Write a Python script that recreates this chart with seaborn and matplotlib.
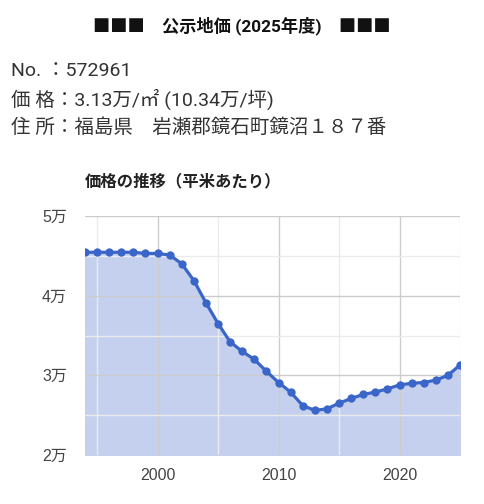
import numpy as np
import pandas as pd
import matplotlib
matplotlib.use("Agg")
import matplotlib.pyplot as plt
import seaborn as sns
from matplotlib.ticker import MultipleLocator, FuncFormatter

years = list(range(1994, 2026))
prices = [4.545, 4.545, 4.545, 4.545, 4.545, 4.53, 4.53, 4.51, 4.40, 4.19,
          3.91, 3.65, 3.42, 3.30, 3.20, 3.05, 2.91, 2.79, 2.62, 2.56,
          2.58, 2.65, 2.71, 2.76, 2.79, 2.83, 2.88, 2.90, 2.91, 2.94,
          3.00, 3.13]
y_ticks = [2, 3, 4, 5]
x_ticks = [2000, 2010, 2020]

title = "■■■　公示地価 (2025年度)　■■■"
info_lines = ["No. ：572961",
              "価 格：3.13万/㎡ (10.34万/坪)",
              "住 所：福島県　岩瀬郡鏡石町鏡沼１８７番"]
chart_title = "価格の推移（平米あたり）"

df = pd.DataFrame({"year": years, "price": prices})

sns.set_style("white")
plt.rcParams['font.family'] = ['Roboto', 'Noto Sans CJK JP', 'DejaVu Sans']
tick_fonts = ['Liberation Sans', 'Noto Sans CJK JP']

fig = plt.figure(figsize=(4.84, 5.04), dpi=100)
fig.text(0.5, 0.95, title, ha="center", va="center", fontsize=12.4, fontweight="bold", color="#111111")
for i, line in enumerate(info_lines):
    fig.text(0.022, 0.859 - i * 0.0565, line, ha="left", va="center", fontsize=14, color="#333333")
fig.text(0.176, 0.641, chart_title, ha="left", va="center", fontsize=11.8, fontweight="bold",
         color="#222222", family=['Noto Sans CJK JP'])

ax = fig.add_axes([0.1756, 0.0972, 0.7748, 0.4742])
ax.fill_between(df["year"], df["price"], 2, color="#c5d0ef", zorder=1)
sns.lineplot(data=df, x="year", y="price", ax=ax, color="#3b66c9", linewidth=2.3,
             marker="o", markersize=6, markeredgewidth=0, zorder=3)

ax.set_xlim(1994, 2025)
ax.set_ylim(2, 5)
ax.set_xticks(x_ticks)
ax.set_yticks(y_ticks)
ax.xaxis.set_minor_locator(MultipleLocator(5))
ax.yaxis.set_minor_locator(MultipleLocator(0.5))
ax.yaxis.set_major_formatter(FuncFormatter(lambda v, p: f"{int(v)}万"))
ax.grid(True, which="major", color="#cccccc", linewidth=1, zorder=2)
ax.grid(True, which="minor", color="#ebebeb", linewidth=1, zorder=2)
ax.set_axisbelow(False)
for s in ax.spines.values():
    s.set_visible(False)
ax.tick_params(axis="both", which="both", length=0, labelsize=11.5, colors="#444444")
ax.tick_params(axis="x", pad=9)
ax.tick_params(axis="y", pad=13)
for lbl in ax.get_xticklabels() + ax.get_yticklabels():
    lbl.set_family(tick_fonts)
ax.set_xlabel("")
ax.set_ylabel("")

fig.savefig("out.png", dpi=100)
